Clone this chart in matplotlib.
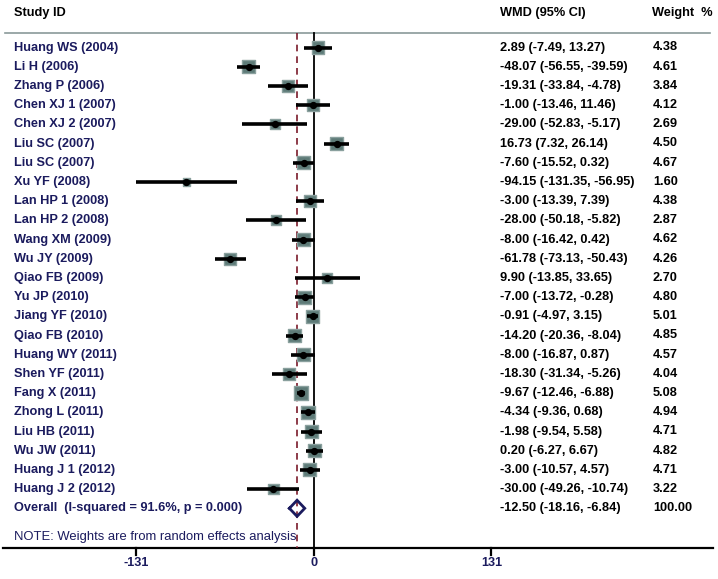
import matplotlib
matplotlib.use("Agg")
import matplotlib.pyplot as plt
import numpy as np

studies = ["Huang WS (2004)", "Li H (2006)", "Zhang P (2006)", "Chen XJ 1 (2007)",
           "Chen XJ 2 (2007)", "Liu SC (2007)", "Liu SC (2007)", "Xu YF (2008)",
           "Lan HP 1 (2008)", "Lan HP 2 (2008)", "Wang XM (2009)", "Wu JY (2009)",
           "Qiao FB (2009)", "Yu JP (2010)", "Jiang YF (2010)", "Qiao FB (2010)",
           "Huang WY (2011)", "Shen YF (2011)", "Fang X (2011)", "Zhong L (2011)",
           "Liu HB (2011)", "Wu JW (2011)", "Huang J 1 (2012)", "Huang J 2 (2012)"]
wmd = [2.89, -48.07, -19.31, -1.00, -29.00, 16.73, -7.60, -94.15, -3.00, -28.00,
       -8.00, -61.78, 9.90, -7.00, -0.91, -14.20, -8.00, -18.30, -9.67, -4.34,
       -1.98, 0.20, -3.00, -30.00]
lower = [-7.49, -56.55, -33.84, -13.46, -52.83, 7.32, -15.52, -131.35, -13.39, -50.18,
         -16.42, -73.13, -13.85, -13.72, -4.97, -20.36, -16.87, -31.34, -12.46, -9.36,
         -9.54, -6.27, -10.57, -49.26]
upper = [13.27, -39.59, -4.78, 11.46, -5.17, 26.14, 0.32, -56.95, 7.39, -5.82,
         0.42, -50.43, 33.65, -0.28, 3.15, -8.04, 0.87, -5.26, -6.88, 0.68,
         5.58, 6.67, 4.57, -10.74]
weights = [4.38, 4.61, 3.84, 4.12, 2.69, 4.50, 4.67, 1.60, 4.38, 2.87, 4.62, 4.26,
           2.70, 4.80, 5.01, 4.85, 4.57, 4.04, 5.08, 4.94, 4.71, 4.82, 4.71, 3.22]
overall_label = "Overall  (I-squared = 91.6%, p = 0.000)"
overall = -12.50
overall_ci = (-18.16, -6.84)
overall_weight = 100.00
xticks = [-131, 0, 131]
note = "NOTE: Weights are from random effects analysis"

navy = "#1b1b5e"
W, H = 718, 579
fig = plt.figure(figsize=(W / 100, H / 100), dpi=100)
ax = fig.add_axes([0, 0, 1, 1])

x0px, scale = 314.0, 177.5 / 131.0
ax.set_xlim((0 - x0px) / scale, (W - x0px) / scale)
y0px, rowpx = 47.5, 19.2
ax.set_ylim((H - y0px) / rowpx, (0 - y0px) / rowpx)
ax.axis("off")

n = len(studies)
rows = np.arange(n)
overall_row = n
note_row = n + 1.5
axis_row = (548 - y0px) / rowpx
top_row = (33 - y0px) / rowpx
header_row = (13 - y0px) / rowpx


def px2x(px):
    return (px - x0px) / scale


# header line
ax.plot([px2x(5), px2x(710)], [top_row, top_row], color="#8a9a9a", lw=1.2)
# x axis line
ax.plot([px2x(3), px2x(713)], [axis_row, axis_row], color="black", lw=1.6)
for t in xticks:
    ax.plot([t, t], [axis_row, axis_row + 0.35], color="black", lw=1.6)
    ax.text(t, axis_row + 0.78, f"{t}", ha="center", va="center", fontsize=9.2,
            fontweight="bold", color=navy, family="Liberation Sans")

# zero line and overall dashed line
ax.plot([0, 0], [top_row, axis_row], color="black", lw=1.3, zorder=2)
ax.plot([overall, overall], [top_row, axis_row], color="#7a1a2a", lw=1.2,
        ls=(0, (4, 3)), zorder=2)

# squares
side_px = 6.0 * np.sqrt(np.array(weights))
sizes = (side_px * 0.72) ** 2
ax.scatter(wmd, rows, s=sizes, marker="s", color="#5e7b78", edgecolors="#8aa09e",
           linewidths=1.0, zorder=3)
ax.hlines(rows, lower, upper, color="black", lw=2.6, zorder=4)
ax.scatter(wmd, rows, s=18, marker="o", color="black", zorder=5)

# overall diamond
dh = 0.42
dx = [overall_ci[0], overall, overall_ci[1], overall, overall_ci[0]]
dy = [overall_row, overall_row - dh, overall_row, overall_row + dh, overall_row]
ax.plot(dx, dy, color=navy, lw=2.0, zorder=5, solid_joinstyle="miter")

fs = 9.2
tkw = dict(fontsize=fs, fontweight="bold", family="Liberation Sans", va="center")
ax.text(px2x(14), header_row, "Study ID", color="black", **tkw)
ax.text(px2x(500), header_row, "WMD (95% CI)", color="black", **tkw)
ax.text(px2x(652), header_row, "Weight  %", color="black", **tkw)

for i in range(n):
    ax.text(px2x(14), rows[i], studies[i], color=navy, **tkw)
    ax.text(px2x(500), rows[i], f"{wmd[i]:.2f} ({lower[i]:.2f}, {upper[i]:.2f})",
            color="black", **tkw)
    ax.text(px2x(653), rows[i], f"{weights[i]:.2f}", color="black", **tkw)

ax.text(px2x(14), overall_row, overall_label, color=navy, **tkw)
ax.text(px2x(500), overall_row, f"{overall:.2f} ({overall_ci[0]:.2f}, {overall_ci[1]:.2f})",
        color="black", **tkw)
ax.text(px2x(653), overall_row, f"{overall_weight:.2f}", color="black", **tkw)
ax.text(px2x(14), note_row, note, color=navy, fontsize=9.4, family="Liberation Sans",
        va="center")

fig.savefig("out.png", dpi=100)
